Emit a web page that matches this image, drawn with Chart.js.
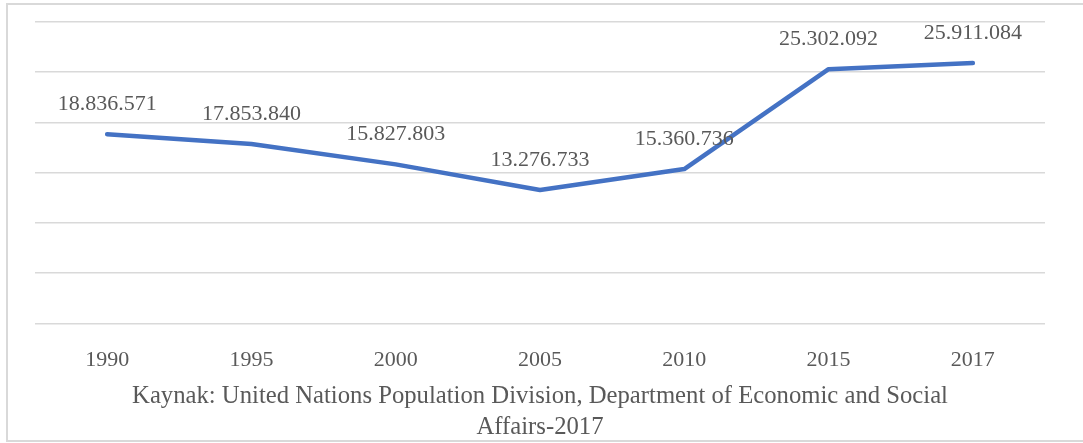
<!DOCTYPE html>
<html>
<head>
<meta charset="utf-8">
<script src="https://cdn.jsdelivr.net/npm/chart.js@4/dist/chart.umd.min.js"></script>
<style>
  html, body { margin: 0; padding: 0; background: #fff; }
  #wrap { width: 1083px; height: 443px; }
</style>
</head>
<body>
<div id="wrap"><canvas id="popChart" width="1083" height="443"></canvas></div>
<script>
const years = ['1990', '1995', '2000', '2005', '2010', '2015', '2017'];
const population = [18836571, 17853840, 15827803, 13276733, 15360736, 25302092, 25911084];
const sourceLines = [
    'Kaynak: United Nations Population Division, Department of Economic and Social',
    'Affairs-2017'
];

const textColor = '#595959';
const gridColor = '#d9d9d9';

// 18836571 -> 18.836.571
const formatDots = (v) => String(v).replace(/\B(?=(\d{3})+(?!\d))/g, '.');

const valueLabels = {
    id: 'valueLabels',
    afterDatasetsDraw(chart) {
        const { ctx } = chart;
        const meta = chart.getDatasetMeta(0);
        ctx.save();
        ctx.font = '22px "Liberation Serif", "Times New Roman", serif';
        ctx.fillStyle = textColor;
        ctx.textAlign = 'center';
        ctx.textBaseline = 'middle';
        meta.data.forEach((pt, i) => {
            ctx.fillText(formatDots(population[i]), pt.x, pt.y - 30);
        });
        ctx.restore();
    }
};

const frame = {
    id: 'frame',
    beforeDraw(chart) {
        const { ctx, width } = chart;
        ctx.save();
        ctx.strokeStyle = gridColor;
        ctx.lineWidth = 2;
        ctx.beginPath();
        ctx.moveTo(width, 4);
        ctx.lineTo(7, 4);
        ctx.lineTo(7, 441);
        ctx.lineTo(width, 441);
        ctx.stroke();
        ctx.restore();
    }
};

new Chart(document.getElementById('popChart'), {
    type: 'line',
    data: {
        labels: years,
        datasets: [{
            data: population,
            borderColor: '#4472c4',
            borderWidth: 4.5,
            borderCapStyle: 'round',
            borderJoinStyle: 'round',
            pointRadius: 0,
            tension: 0,
            fill: false,
        }]
    },
    options: {
        responsive: false,
        animation: false,
        layout: {
            padding: { left: 35, right: 38, top: 22, bottom: 0 }
        },
        scales: {
            x: {
                offset: true,
                grid: { display: false, drawTicks: false },
                border: { display: false },
                ticks: {
                    color: textColor,
                    padding: 24,
                    font: { family: '"Liberation Serif", "Times New Roman", serif', size: 22 },
                },
            },
            y: {
                min: 0,
                max: 30000000,
                ticks: { display: false, stepSize: 5000000 },
                grid: { color: gridColor, lineWidth: 1.5, drawTicks: false },
                border: { display: false },
            },
        },
        plugins: {
            legend: { display: false },
            tooltip: { enabled: false },
            title: {
                display: true,
                position: 'bottom',
                text: sourceLines,
                color: textColor,
                font: { family: '"Liberation Serif", "Times New Roman", serif', size: 24.7, weight: 'normal', lineHeight: 1.26 },
                padding: { top: -17, bottom: 0 },
            },
        },
    },
    plugins: [frame, valueLabels],
});
</script>
</body>
</html>
